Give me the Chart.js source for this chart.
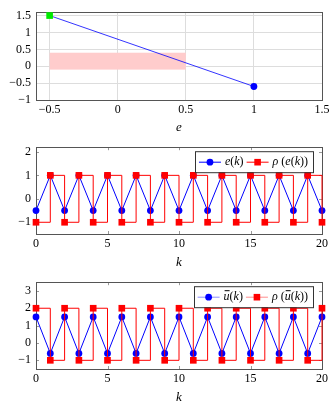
<!DOCTYPE html>
<html>
<head>
<meta charset="utf-8">
<script src="https://cdn.jsdelivr.net/npm/chart.js@4.4.0/dist/chart.umd.min.js"></script>
<style>
  html, body { margin: 0; padding: 0; background: #fff; }
  #wrap { position: relative; width: 335px; height: 405px; }
  .plot { position: absolute; left: 0; width: 335px; height: 135px; }
</style>
</head>
<body>
<div id="wrap">
  <div class="plot" style="top:0"><canvas id="c1" width="335" height="135"></canvas></div>
  <div class="plot" style="top:135px"><canvas id="c2" width="335" height="135"></canvas></div>
  <div class="plot" style="top:270px"><canvas id="c3" width="335" height="135"></canvas></div>
</div>
<script>
// --- dados: gráfico 1 ---
const lineX = [-0.5, 1];
const lineY = [1.5, -0.6];
const rectX = [-0.5, 0.5];
const rectY = [-0.1, 0.4];
const xTicks1 = [-0.5, 0, 0.5, 1, 1.5];
const yTicks1 = [-1, -0.5, 0, 0.5, 1, 1.5];

// --- dados: gráficos 2 e 3 ---
const k = [0, 1, 2, 3, 4, 5, 6, 7, 8, 9, 10, 11, 12, 13, 14, 15, 16, 17, 18, 19, 20];
const eK = [-0.5, 1, -0.5, 1, -0.5, 1, -0.5, 1, -0.5, 1, -0.5, 1, -0.5, 1, -0.5, 1, -0.5, 1, -0.5, 1, -0.5];
const rhoE = [-1, 1, -1, 1, -1, 1, -1, 1, -1, 1, -1, 1, -1, 1, -1, 1, -1, 1, -1, 1, -1];
const uBar = [1.5, -0.6, 1.5, -0.6, 1.5, -0.6, 1.5, -0.6, 1.5, -0.6, 1.5, -0.6, 1.5, -0.6, 1.5, -0.6, 1.5, -0.6, 1.5, -0.6, 1.5];
const rhoU = [2, -1, 2, -1, 2, -1, 2, -1, 2, -1, 2, -1, 2, -1, 2, -1, 2, -1, 2, -1, 2];
const kTicks = [0, 5, 10, 15, 20];
const yTicks2 = [-1, 0, 1, 2];
const yTicks3 = [-1, 0, 1, 2, 3];

const FONT = '"Liberation Serif", "DejaVu Serif", serif';
const BLUE = 'rgb(0,0,255)';
const RED = 'rgb(255,0,0)';
const GREEN = 'rgb(0,235,0)';
const BORDER = '#555';

Chart.defaults.font.family = FONT;
Chart.defaults.font.size = 12;
Chart.defaults.color = '#000';

const fmt = v => String(v).replace('-', '\u2212');
const pts = (xs, ys) => xs.map((x, i) => ({ x: x, y: ys[i] }));

// caixa em volta da área + marcas de escala para dentro
const boxPlugin = {
    id: 'pgfBox',
    beforeDatasetsDraw(chart, args, opts) {
        const { ctx, chartArea: a, scales } = chart;
        ctx.save();
        if (opts.rect) {
            const x0 = scales.x.getPixelForValue(opts.rect.x[0]);
            const x1 = scales.x.getPixelForValue(opts.rect.x[1]);
            const y0 = scales.y.getPixelForValue(opts.rect.y[0]);
            const y1 = scales.y.getPixelForValue(opts.rect.y[1]);
            ctx.fillStyle = 'rgb(255,204,204)';
            ctx.fillRect(x0, y1, x1 - x0, y0 - y1);
        }
        ctx.strokeStyle = '#999';
        ctx.lineWidth = 1;
        if (opts.ticks) {
            ctx.beginPath();
            scales.x.ticks.forEach(t => {
                const px = Math.round(scales.x.getPixelForValue(t.value)) + 0.5;
                ctx.moveTo(px, a.bottom); ctx.lineTo(px, a.bottom - 3);
                ctx.moveTo(px, a.top); ctx.lineTo(px, a.top + 3);
            });
            scales.y.ticks.forEach(t => {
                const py = Math.round(scales.y.getPixelForValue(t.value)) + 0.5;
                ctx.moveTo(a.left, py); ctx.lineTo(a.left + 3, py);
                ctx.moveTo(a.right, py); ctx.lineTo(a.right - 3, py);
            });
            ctx.stroke();
        }
        ctx.strokeStyle = BORDER;
        ctx.strokeRect(Math.round(a.left) + 0.5, Math.round(a.top) + 0.5,
            Math.round(a.right - a.left), Math.round(a.bottom - a.top));
        ctx.restore();
    }
};

// legenda no estilo pgfplots (canto superior direito)
function segFont(it) { return (it ? 'italic ' : '') + '12px ' + FONT; }
function segWidth(ctx, segs) {
    let w = 0;
    segs.forEach(s => { ctx.font = segFont(s[1]); w += ctx.measureText(s[0]).width; });
    return w;
}
function drawMarker(ctx, style, color, x, y) {
    ctx.fillStyle = color;
    ctx.beginPath();
    if (style === 'rect') ctx.rect(x - 3.3, y - 3.3, 6.6, 6.6);
    else ctx.arc(x, y, 3.4, 0, Math.PI * 2);
    ctx.fill();
}
const legendPlugin = {
    id: 'pgfLegend',
    afterDraw(chart, args, opts) {
        if (!opts.entries) return;
        const { ctx, chartArea: a } = chart;
        const lineW = 22, pad = 4, gap = 4, h = 21;
        let total = pad;
        opts.entries.forEach((e, i) => {
            total += lineW + gap + segWidth(ctx, e.segs) + (i < opts.entries.length - 1 ? 3 : pad + 1);
        });
        const right = a.right - 9, top = a.top + 4;
        const left = right - total;
        ctx.save();
        ctx.fillStyle = '#fff';
        ctx.fillRect(left, top, total, h);
        ctx.strokeStyle = '#333';
        ctx.lineWidth = 1;
        ctx.strokeRect(Math.round(left) + 0.5, top + 0.5, Math.round(total), h);
        let x = left + pad;
        const cy = top + h / 2 + 0.5;
        opts.entries.forEach(e => {
            ctx.strokeStyle = e.lineColor;
            ctx.beginPath();
            ctx.moveTo(x, cy); ctx.lineTo(x + lineW, cy);
            ctx.stroke();
            drawMarker(ctx, e.marker, e.color, x + lineW / 2, cy);
            x += lineW + gap;
            ctx.fillStyle = '#000';
            ctx.textBaseline = 'middle';
            e.segs.forEach(s => {
                ctx.font = segFont(s[1]);
                ctx.fillText(s[0], x, cy);
                const w = ctx.measureText(s[0]).width;
                if (s[2]) {
                    ctx.strokeStyle = '#000';
                    ctx.beginPath();
                    ctx.moveTo(x + 1, cy - 6.5); ctx.lineTo(x + w, cy - 6.5);
                    ctx.stroke();
                }
                x += w;
            });
            x += 3;
        });
        ctx.restore();
    }
};

function makePlot(id, datasets, cfg) {
    return new Chart(document.getElementById(id), {
        type: 'scatter',
        data: { datasets: datasets },
        plugins: [boxPlugin, legendPlugin],
        options: {
            responsive: false,
            animation: false,
            layout: { padding: { top: cfg.padTop, right: 13, left: 0, bottom: 0 } },
            plugins: {
                legend: { display: false },
                tooltip: { enabled: false },
                pgfBox: { rect: cfg.rect, ticks: !cfg.grid },
                pgfLegend: { entries: cfg.legend }
            },
            scales: {
                x: {
                    type: 'linear',
                    min: cfg.xMin, max: cfg.xMax,
                    afterFit: s => { s.height = cfg.xHeight; },
                    afterBuildTicks: s => { s.ticks = cfg.xTicks.map(v => ({ value: v })); },
                    border: { display: false },
                    grid: { display: cfg.grid, color: '#ddd', drawTicks: false },
                    ticks: { autoSkip: false, padding: 3, maxRotation: 0, callback: fmt },
                    title: { display: true, text: cfg.xTitle, font: { style: 'italic', size: 13 }, padding: { top: cfg.titlePad, bottom: 0 } }
                },
                y: {
                    min: cfg.yMin, max: cfg.yMax,
                    afterFit: s => { s.width = 36; },
                    afterBuildTicks: s => { s.ticks = cfg.yTicks.map(v => ({ value: v })); },
                    border: { display: false },
                    grid: { display: cfg.grid, color: '#ddd', drawTicks: false },
                    ticks: { autoSkip: false, padding: 5, callback: fmt }
                }
            }
        }
    });
}

// gráfico 1
makePlot('c1', [{
    data: pts(lineX, lineY),
    showLine: true,
    borderColor: BLUE,
    borderWidth: 0.8,
    pointStyle: ['rect', 'circle'],
    pointRadius: [4.7, 3.4],
    pointBackgroundColor: [GREEN, BLUE],
    pointBorderWidth: 0,
    clip: false
}], {
    padTop: 4, xHeight: 35, titlePad: 3, grid: true,
    xMin: -0.6, xMax: 1.5, xTicks: xTicks1, yMin: -1, yMax: 1.6, yTicks: yTicks1,
    xTitle: 'e', rect: { x: rectX, y: rectY }
});

// gráfico 2
makePlot('c2', [{
    label: 'e(k)',
    data: pts(k, eK),
    showLine: true,
    borderColor: BLUE,
    borderWidth: 1,
    pointStyle: 'circle',
    pointRadius: 3.4,
    pointBackgroundColor: BLUE,
    pointBorderWidth: 0,
    order: 1,
    clip: false
}, {
    label: 'ρ (e(k))',
    data: pts(k, rhoE),
    showLine: true,
    stepped: 'before',
    borderColor: RED,
    borderWidth: 1,
    pointStyle: 'rect',
    pointRadius: 4.7,
    pointBackgroundColor: RED,
    pointBorderWidth: 0,
    order: 0,
    clip: false
}], {
    padTop: 3, xHeight: 36, titlePad: 2, grid: false,
    xMin: 0, xMax: 20, xTicks: kTicks, yMin: -1.5, yMax: 2.2, yTicks: yTicks2,
    xTitle: 'k',
    legend: [
        { marker: 'circle', color: BLUE, lineColor: BLUE, segs: [['e', true], ['(', false], ['k', true], [')', false]] },
        { marker: 'rect', color: RED, lineColor: RED, segs: [['ρ', true], [' (', false], ['e', true], ['(', false], ['k', true], ['))', false]] }
    ]
});

// gráfico 3
makePlot('c3', [{
    label: 'ū(k)',
    data: pts(k, uBar),
    showLine: true,
    borderColor: BLUE,
    borderWidth: 1,
    pointStyle: 'circle',
    pointRadius: 3.4,
    pointBackgroundColor: BLUE,
    pointBorderWidth: 0,
    order: 1,
    clip: false
}, {
    label: 'ρ (ū(k))',
    data: pts(k, rhoU),
    showLine: true,
    stepped: 'before',
    borderColor: RED,
    borderWidth: 1,
    pointStyle: 'rect',
    pointRadius: 4.7,
    pointBackgroundColor: RED,
    pointBorderWidth: 0,
    order: 0,
    clip: false
}], {
    padTop: 5, xHeight: 36, titlePad: 3, grid: false,
    xMin: 0, xMax: 20, xTicks: kTicks, yMin: -1.5, yMax: 3.5, yTicks: yTicks3,
    xTitle: 'k',
    legend: [
        { marker: 'circle', color: BLUE, lineColor: 'rgba(0,0,255,0.45)', segs: [['u', true, true], ['(', false], ['k', true], [')', false]] },
        { marker: 'rect', color: RED, lineColor: 'rgba(255,0,0,0.45)', segs: [['ρ', true], [' (', false], ['u', true, true], ['(', false], ['k', true], ['))', false]] }
    ]
});
</script>
</body>
</html>
